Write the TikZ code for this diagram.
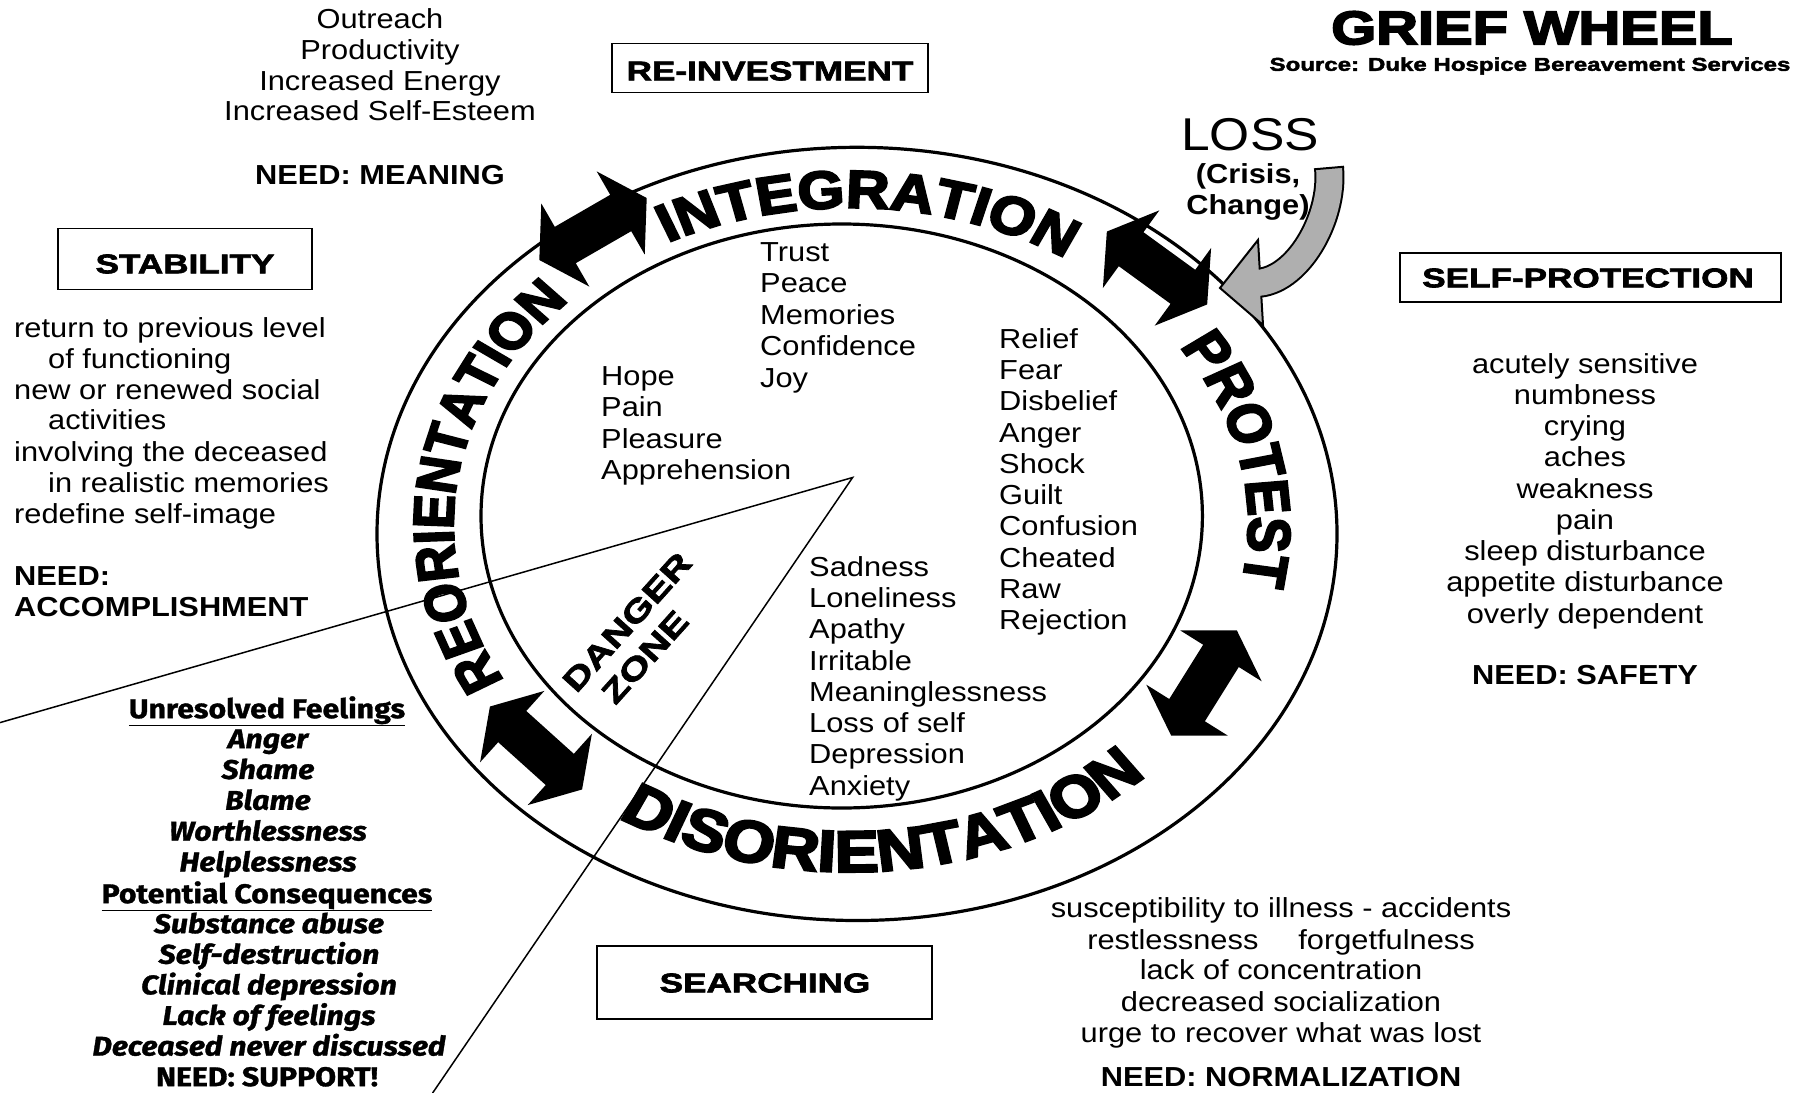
\documentclass[tikz,border=0pt]{standalone}
\usepackage{fontspec}
\setmainfont{Liberation Sans}
\newfontfamily\bodyf{Liberation Sans}[FakeStretch=1.12]
\newfontfamily\blackf{Liberation Sans Bold}[FakeStretch=1.3,FakeBold=2.5]
\newfontfamily\titlef{Liberation Sans Bold}[FakeStretch=1.23,FakeBold=4]
\newfontfamily\ringf{Liberation Sans Bold}[FakeBold=4]
\newfontfamily\italf{Fira Sans}[FakeStretch=1.12,FakeBold=1.2]
\usetikzlibrary{decorations.text}
\newcommand\ringfnt{\ringf\fontsize{60}{72}\selectfont}
\newcommand\ringfntS{\ringf\fontsize{57}{72}\selectfont}
\newcommand\ringfntL{\ringf\fontsize{66}{72}\selectfont}
\definecolor{lossgray}{RGB}{175,175,175}
\tikzset{
  body/.style={font=\bodyf\fontsize{27.5}{31}\selectfont, inner sep=0pt, yshift=-6.5pt},
  bodyb/.style={font=\bodyf\bfseries\fontsize{27.5}{31}\selectfont, inner sep=0pt, yshift=-6.5pt},
  boxlabel/.style={font=\blackf\fontsize{27}{30}\selectfont, inner sep=0pt},
  stagebox/.style={draw, line width=1.6pt},
  itl/.style={font=\italf\bfseries\itshape\fontsize{27}{31}\selectfont, inner sep=0pt, yshift=-6.5pt},
  itb/.style={font=\italf\bfseries\fontsize{27}{31}\selectfont, inner sep=0pt, yshift=-6.5pt},
  ringline/.style={line width=3.2pt},
  dangerline/.style={line width=1.5pt},
  dangerf/.style={font=\blackf\fontsize{31}{34}\selectfont, inner sep=0pt, rotate=48},
  ringdeco/.style={decorate, decoration={text along path, text align=center, text={|\ringfnt|#1}}},
  ringdecoS/.style={decorate, decoration={text along path, text align=center, text={|\ringfntS|#1}}},
  ringdecoL/.style={decorate, decoration={text along path, text align=center, text={|\ringfntL|#1}}},
  ringarrow/.pic={\fill (-62,0) -- (-32,48) -- (-32,21) -- (32,21) -- (32,48) -- (62,0) -- (32,-48) -- (32,-21) -- (-32,-21) -- (-32,-48) -- cycle;}
}
\begin{document}
\begin{tikzpicture}[x=1pt,y=1pt]
\useasboundingbox (0,0) rectangle (1795,-1092);
\fill[white] (0,0) rectangle (1795,-1092);

% wheel
\draw[ringline] (857,-533.9) ellipse[x radius=480, y radius=386.6];
\draw[ringline] (841.7,-516) ellipse[x radius=360.7, y radius=292];

% ring texts
\begin{scope}[transform canvas={yscale=0.887}]
  \path[ringdeco={INTEGRATION}] (849.4,-591.9) ++(147:398.9 and 357.6) arc[start angle=147, end angle=27, x radius=398.9, y radius=357.6];
  \path[ringdeco={PROTEST}] (849.4,-591.9) ++(71:398.9 and 357.6) arc[start angle=71, end angle=-49, x radius=398.9, y radius=357.6];
  \path[ringdecoS={REORIENTATION}] (849.4,-591.9) ++(232.5:396 and 357.6) arc[start angle=232.5, end angle=112.5, x radius=396, y radius=357.6];
  \path[ringdecoL={DISORIENTATION}] (849.4,-591.9) ++(215.8:429 and 391) arc[start angle=215.8, end angle=335.8, x radius=429, y radius=391];
\end{scope}

% ring arrows
\pic[rotate=30] (arTL) at (593,-229) {ringarrow};
\pic[rotate=-36] (arTR) at (1157,-268) {ringarrow};
\pic[rotate=58] (arBR) at (1204,-683) {ringarrow};
\pic[rotate=-42] (arBL) at (536,-748) {ringarrow};

% danger zone
\coordinate (apex) at (852.6,-477.5);
\coordinate (dzL) at (0,-722.6);
\coordinate (dzB) at (432.6,-1093);
\draw[dangerline] (dzL) -- (apex) -- (dzB);
\node[dangerf] (dz1) at (627,-622) {DANGER};
\node[dangerf] (dz2) at (645,-657) {ZONE};

% title
\node[font=\titlef\fontsize{47}{50}\selectfont, inner sep=0pt] (title) at (1532,-28) {GRIEF WHEEL};
\node[font=\blackf\fontsize{18.5}{20}\selectfont, inner sep=0pt] (source) at (1530,-66) {Source: Duke Hospice Bereavement Services};

% loss
\node[font=\bodyf\fontsize{46}{50}\selectfont, inner sep=0pt] (loss) at (1250,-135) {LOSS};
\node[bodyb, yshift=6.5pt] (crisis) at (1248,-176) {(Crisis,};
\node[bodyb, yshift=6.5pt] (change) at (1248,-207) {Change)};
\coordinate (gs) at (1329,-168);
\coordinate (ge) at (1255,-283);
\draw[line width=30pt] (gs) .. controls (1334,-218) and (1297,-283) .. (ge);
\filldraw[fill=lossgray, line width=2pt, line join=miter] (1258,-240) -- (1220,-288) -- (1263,-325) -- cycle;
\draw[line width=26pt, lossgray] (gs) .. controls (1334,-218) and (1297,-283) .. (ge);
\draw[line width=2pt] (1314,-169.3) -- (1344,-166.7);

% boxes
\node[stagebox, minimum width=316pt, minimum height=49pt] (reinv) at (770,-68) {};
\node[boxlabel] (reinvt) at (770,-71) {RE-INVESTMENT};
\node[stagebox, minimum width=254pt, minimum height=61pt] (stab) at (185,-259) {};
\node[boxlabel] (stabt) at (185,-264) {STABILITY};
\node[stagebox, minimum width=381pt, minimum height=49pt] (selfp) at (1590.5,-277.5) {};
\node[boxlabel] (selfpt) at (1588,-278) {SELF-PROTECTION};
\node[stagebox, minimum width=335pt, minimum height=73pt] (search) at (764.5,-982.5) {};
\node[boxlabel] (searcht) at (765,-983) {SEARCHING};

% top-left block
\foreach \t [count=\i] in {Outreach, Productivity, Increased Energy, Increased Self-Esteem}
  \node[body, anchor=mid] (tl\i) at (380, {-19.6-(\i-1)*30.7}) {\t};
\node[bodyb, anchor=mid] (needm) at (380,-175) {NEED: MEANING};

% left block
\node[body, anchor=mid west] (l1) at (14,-328) {return to previous level};
\node[body, anchor=mid west] (l2) at (48,-359) {of functioning};
\node[body, anchor=mid west] (l3) at (14,-390) {new or renewed social};
\node[body, anchor=mid west] (l4) at (48,-420) {activities};
\node[body, anchor=mid west] (l5) at (14,-452) {involving the deceased};
\node[body, anchor=mid west] (l6) at (48,-483) {in realistic memories};
\node[body, anchor=mid west] (l7) at (14,-514) {redefine self-image};
\node[bodyb, anchor=mid west] (l8) at (14,-576) {NEED:};
\node[bodyb, anchor=mid west] (l9) at (14,-607.5) {ACCOMPLISHMENT};

% right block
\foreach \t [count=\i] in {acutely sensitive, numbness, crying, aches, weakness, pain, sleep disturbance, appetite disturbance, overly dependent}
  \node[body, anchor=mid] (r\i) at (1585, {-364-(\i-1)*31.25}) {\t};
\node[bodyb, anchor=mid] (needs) at (1585,-675) {NEED: SAFETY};

% bottom-right block
\node[body, anchor=mid] (br1) at (1281,-908) {susceptibility to illness - accidents};
\node[body, anchor=mid] (br2) at (1281,-940) {restlessness\hspace{40pt}forgetfulness};
\node[body, anchor=mid] (br3) at (1281,-970) {lack of concentration};
\node[body, anchor=mid] (br4) at (1281,-1002) {decreased socialization};
\node[body, anchor=mid] (br5) at (1281,-1033) {urge to recover what was lost};
\node[bodyb, anchor=mid] (needn) at (1281,-1077) {NEED: NORMALIZATION};

% bottom-left block
\node[itb, anchor=mid] (bl0) at (267,-709) {\underline{Unresolved Feelings}};
\foreach \t [count=\i] in {Anger, Shame, Blame, Worthlessness, Helplessness}
  \node[itl, anchor=mid] (bla\i) at (268, {-739-(\i-1)*30.8}) {\t};
\node[itb, anchor=mid] (blp) at (267,-894) {\underline{Potential Consequences}};
\foreach \t [count=\i] in {Substance abuse, Self-destruction, Clinical depression, Lack of feelings, Deceased never discussed}
  \node[itl, anchor=mid] (blb\i) at (269, {-924-(\i-1)*30.6}) {\t};
\node[itb, anchor=mid] (needsup) at (267,-1077) {NEED: SUPPORT!};

% inner lists
\foreach \t [count=\i] in {Trust, Peace, Memories, Confidence, Joy}
  \node[body, anchor=mid west] (c1\i) at (760, {-252-(\i-1)*31.5}) {\t};
\foreach \t [count=\i] in {Hope, Pain, Pleasure, Apprehension}
  \node[body, anchor=mid west] (c2\i) at (601, {-376-(\i-1)*31.5}) {\t};
\foreach \t [count=\i] in {Relief, Fear, Disbelief, Anger, Shock, Guilt, Confusion, Cheated, Raw, Rejection}
  \node[body, anchor=mid west] (c3\i) at (999, {-339-(\i-1)*31.3}) {\t};
\foreach \t [count=\i] in {Sadness, Loneliness, Apathy, Irritable, Meaninglessness, Loss of self, Depression, Anxiety}
  \node[body, anchor=mid west] (c4\i) at (809, {-567-(\i-1)*31.3}) {\t};
\end{tikzpicture}
\end{document}
